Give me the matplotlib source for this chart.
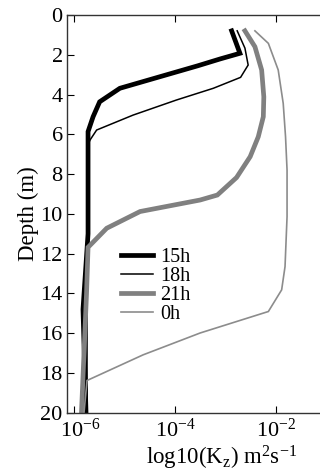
import numpy as np
import matplotlib
matplotlib.use("Agg")
import matplotlib.pyplot as plt
import matplotlib.transforms as mtransforms

plt.rcParams["font.family"] = ["Liberation Serif", "DejaVu Serif"]
plt.rcParams["mathtext.fontset"] = "custom"
plt.rcParams["mathtext.rm"] = "Liberation Serif"
plt.rcParams["mathtext.it"] = "Liberation Serif:italic"

# log10(Kz) values and depths
logk_15h = [-2.877, -2.713, -3.10, -3.55, -4.30, -5.09, -5.49, -5.62, -5.72, -5.72, -5.82, -5.76]
depth_15h = [0.79, 1.92, 2.20, 2.55, 3.10, 3.68, 4.36, 5.11, 5.86, 11.0, 14.8, 20.0]

logk_18h = [-2.767, -2.614, -2.55, -2.70, -3.24, -3.97, -4.83, -5.55, -5.68, -5.74, -5.74]
depth_18h = [0.79, 1.66, 2.51, 3.13, 3.68, 4.27, 5.03, 5.78, 6.28, 6.62, 20.0]

logk_21h = [-2.614, -2.416, -2.283, -2.24, -2.25, -2.35, -2.51, -2.78, -3.16, -3.50,
            -4.69, -5.35, -5.72, -5.75, -5.85]
depth_21h = [0.79, 1.59, 2.76, 4.11, 5.11, 6.12, 7.12, 8.17, 9.05, 9.30,
             9.88, 10.72, 11.68, 14.0, 20.0]

logk_0h = [-2.416, -2.15, -1.955, -1.856, -1.81, -1.78, -1.78, -1.82, -1.887, -2.15,
           -3.50, -4.63, -5.74, -5.80]
depth_0h = [0.79, 1.42, 2.76, 4.44, 6.12, 7.79, 10.14, 12.65, 13.82, 14.91,
            15.99, 17.09, 18.38, 20.0]

labels = ["15h", "18h", "21h", "0h"]

fig = plt.figure(figsize=(3.2, 4.73), dpi=100)
ax = fig.add_axes([0.209, 0.1275, 0.969, 0.8405])

series = [(logk_15h, depth_15h), (logk_18h, depth_18h),
          (logk_21h, depth_21h), (logk_0h, depth_0h)]
styles = [dict(color="black", lw=3.4), dict(color="black", lw=1.1),
          dict(color="#808080", lw=3.4), dict(color="#8c8c8c", lw=1.2)]
for (lk, d), st, lab in zip(series, styles, labels):
    ax.plot(10.0 ** np.array(lk), d, label=lab, solid_joinstyle="miter", **st)

ax.set_xscale("log")
ax.set_xlim(10 ** -6.139, 1.0)
ax.set_ylim(20, 0)
ax.set_xticks([1e-6, 1e-4, 1e-2])
ax.xaxis.set_minor_locator(matplotlib.ticker.NullLocator())
ax.set_yticks(np.arange(0, 21, 2))
ax.tick_params(direction="in", labelsize=16, length=5, top=True, pad=3)
ax.tick_params(axis="x", labeltop=False, pad=4.5)

# first x tick label sits a little right of its tick, clear of the "20"
fig.canvas.draw()
shift = mtransforms.ScaledTranslation(6 / 100, 0, fig.dpi_scale_trans)
lbl0 = ax.get_xticklabels()[0]
lbl0.set_transform(lbl0.get_transform() + shift)

for s in ax.spines.values():
    s.set_linewidth(1.0)
    s.set_color("#333333")

ax.set_ylabel("Depth (m)", fontsize=16.5, labelpad=1)
ax.set_xlabel(r"log10(K$_\mathrm{z}$) m$^2$s$^{-1}$", fontsize=16.5, labelpad=1)

ax.legend(loc="upper left", bbox_to_anchor=(0.175, 0.415), frameon=False,
          fontsize=14.5, handlelength=1.6, handletextpad=0.35, labelspacing=0.0,
          borderaxespad=0, borderpad=0)

fig.savefig("out.png", dpi=100)
